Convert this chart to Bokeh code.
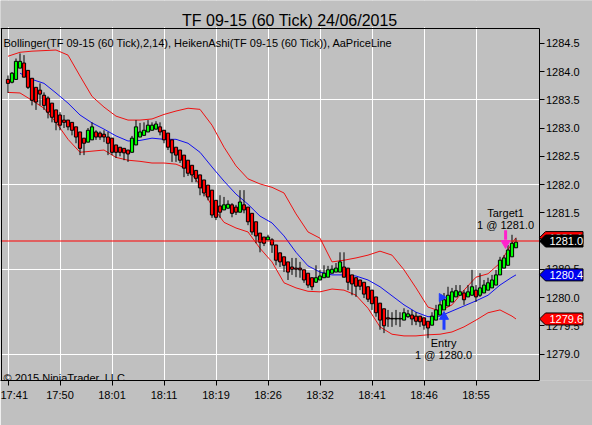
import math
from bokeh.plotting import figure
from bokeh.models import (ColumnDataSource, FixedTicker, Label, BoxAnnotation,
                          PrintfTickFormatter, LinearAxis)
from bokeh.core.properties import value
from bokeh.embed import file_html
from bokeh.resources import INLINE

# ---------------- data ----------------
title_text = "TF 09-15 (60 Tick)  24/06/2015"
indicator_text = "Bollinger(TF 09-15 (60 Tick),2,14), HeikenAshi(TF 09-15 (60 Tick)), AaPriceLine"
copyright_text = "\u00a9 2015 NinjaTrader, LLC"

tick_bars = [0, 13, 26, 39, 52, 65, 78, 91, 104, 117]
tick_labels = ["17:41", "17:50", "18:01", "18:11", "18:19", "18:26",
               "18:32", "18:41", "18:46", "18:55"]
price_ticks = [1279.0, 1279.5, 1280.0, 1280.5, 1281.0, 1281.5,
               1282.0, 1282.5, 1283.0, 1283.5, 1284.0, 1284.5]
grid_prices = [1279.0, 1280.5, 1282.0, 1283.5]

ha_open = [
    1283.86, 1283.81, 1283.86, 1284.06, 1284.15, 1284.02, 1283.88, 1283.72, 1283.67, 1283.58,
    1283.53, 1283.44, 1283.32, 1283.23, 1283.14, 1283.14, 1283.10, 1283.02, 1282.93, 1282.82,
    1282.75, 1282.79, 1282.93, 1282.91, 1282.89, 1282.84, 1282.82, 1282.70, 1282.66, 1282.64,
    1282.61, 1282.57, 1282.70, 1282.84, 1282.87, 1282.93, 1282.96, 1282.98, 1283.02, 1282.96,
    1282.91, 1282.79, 1282.66, 1282.61, 1282.52, 1282.43, 1282.34, 1282.25, 1282.17, 1282.08,
    1281.99, 1281.90, 1281.72, 1281.62, 1281.55, 1281.58, 1281.64, 1281.60, 1281.51, 1281.64,
    1281.60, 1281.49, 1281.34, 1281.14, 1281.07, 1281.02, 1281.02, 1280.93, 1280.79, 1280.72,
    1280.63, 1280.54, 1280.52, 1280.52, 1280.49, 1280.43, 1280.35, 1280.27, 1280.31, 1280.35,
    1280.36, 1280.43, 1280.45, 1280.45, 1280.54, 1280.52, 1280.40, 1280.35, 1280.31, 1280.27,
    1280.19, 1280.13, 1280.01, 1279.90, 1279.80, 1279.64, 1279.63, 1279.62, 1279.63, 1279.60,
    1279.66, 1279.69, 1279.67, 1279.67, 1279.64, 1279.58, 1279.51, 1279.60, 1279.69, 1279.78,
    1279.85, 1279.92, 1280.01, 1280.04, 1280.08, 1280.01, 1280.04, 1280.13, 1280.04, 1280.08,
    1280.13, 1280.17, 1280.22, 1280.40, 1280.52, 1280.57, 1280.72, 1280.88]

ha_high = [
    1283.93, 1283.99, 1284.23, 1284.32, 1284.29, 1284.02, 1283.88, 1283.72, 1283.79, 1283.63,
    1283.56, 1283.44, 1283.32, 1283.28, 1283.23, 1283.14, 1283.10, 1283.02, 1282.93, 1282.82,
    1283.00, 1283.10, 1282.96, 1282.94, 1282.96, 1282.93, 1282.82, 1282.70, 1282.66, 1282.64,
    1282.61, 1282.86, 1283.14, 1283.09, 1283.10, 1283.14, 1283.10, 1283.12, 1283.10, 1282.96,
    1282.91, 1282.79, 1282.66, 1282.61, 1282.52, 1282.43, 1282.34, 1282.25, 1282.17, 1282.08,
    1281.99, 1281.90, 1281.72, 1281.81, 1281.78, 1281.72, 1281.67, 1281.64, 1281.90, 1281.90,
    1281.60, 1281.49, 1281.34, 1281.14, 1281.07, 1281.11, 1281.05, 1280.93, 1280.79, 1280.72,
    1280.63, 1280.70, 1280.70, 1280.63, 1280.49, 1280.43, 1280.35, 1280.57, 1280.49, 1280.57,
    1280.56, 1280.57, 1280.61, 1280.80, 1280.80, 1280.52, 1280.40, 1280.35, 1280.31, 1280.27,
    1280.19, 1280.13, 1280.01, 1279.90, 1279.80, 1279.78, 1279.74, 1279.78, 1279.74, 1279.81,
    1279.78, 1279.78, 1279.74, 1279.67, 1279.64, 1279.58, 1279.74, 1279.87, 1279.99, 1280.08,
    1280.19, 1280.17, 1280.22, 1280.22, 1280.13, 1280.22, 1280.49, 1280.22, 1280.43, 1280.31,
    1280.35, 1280.40, 1280.49, 1280.72, 1280.75, 1280.93, 1281.11, 1281.05]

ha_low = [
    1283.62, 1283.79, 1283.86, 1284.06, 1283.90, 1283.69, 1283.40, 1283.32, 1283.40, 1283.32,
    1283.17, 1283.10, 1282.96, 1282.96, 1283.00, 1282.96, 1282.87, 1282.73, 1282.52, 1282.52,
    1282.75, 1282.79, 1282.79, 1282.79, 1282.75, 1282.52, 1282.52, 1282.47, 1282.50, 1282.43,
    1282.40, 1282.57, 1282.70, 1282.84, 1282.87, 1282.93, 1282.96, 1282.98, 1282.87, 1282.73,
    1282.61, 1282.40, 1282.40, 1282.38, 1282.13, 1282.15, 1282.04, 1282.04, 1281.81, 1281.79,
    1281.72, 1281.41, 1281.37, 1281.41, 1281.55, 1281.58, 1281.42, 1281.46, 1281.51, 1281.49,
    1281.28, 1281.11, 1280.96, 1280.80, 1280.91, 1281.02, 1280.79, 1280.57, 1280.54, 1280.45,
    1280.31, 1280.40, 1280.36, 1280.35, 1280.26, 1280.17, 1280.13, 1280.26, 1280.31, 1280.35,
    1280.36, 1280.43, 1280.45, 1280.45, 1280.36, 1280.13, 1280.04, 1280.01, 1280.13, 1279.99,
    1279.92, 1279.78, 1279.66, 1279.43, 1279.37, 1279.48, 1279.48, 1279.51, 1279.48, 1279.60,
    1279.64, 1279.51, 1279.51, 1279.48, 1279.43, 1279.28, 1279.51, 1279.60, 1279.69, 1279.78,
    1279.85, 1279.92, 1280.01, 1280.04, 1279.87, 1280.01, 1280.04, 1279.92, 1280.01, 1280.08,
    1280.13, 1280.17, 1280.22, 1280.40, 1280.52, 1280.57, 1280.72, 1280.88]

ha_close = [
    1283.79, 1283.97, 1284.18, 1284.18, 1283.90, 1283.72, 1283.49, 1283.46, 1283.60, 1283.40,
    1283.28, 1283.19, 1283.10, 1283.05, 1283.10, 1283.02, 1282.96, 1282.84, 1282.64, 1282.73,
    1282.96, 1283.02, 1282.84, 1282.84, 1282.84, 1282.73, 1282.57, 1282.57, 1282.57, 1282.56,
    1282.54, 1282.82, 1283.02, 1282.93, 1282.96, 1283.05, 1283.05, 1283.07, 1282.93, 1282.79,
    1282.66, 1282.56, 1282.52, 1282.43, 1282.29, 1282.20, 1282.17, 1282.11, 1281.94, 1281.85,
    1281.78, 1281.46, 1281.42, 1281.51, 1281.64, 1281.65, 1281.49, 1281.51, 1281.69, 1281.55,
    1281.34, 1281.16, 1281.09, 1280.98, 1280.96, 1281.07, 1280.93, 1280.66, 1280.63, 1280.57,
    1280.45, 1280.50, 1280.50, 1280.49, 1280.31, 1280.22, 1280.19, 1280.35, 1280.38, 1280.43,
    1280.49, 1280.50, 1280.52, 1280.63, 1280.36, 1280.27, 1280.24, 1280.20, 1280.20, 1280.06,
    1279.97, 1279.89, 1279.73, 1279.60, 1279.50, 1279.62, 1279.62, 1279.63, 1279.62, 1279.73,
    1279.71, 1279.62, 1279.58, 1279.57, 1279.51, 1279.46, 1279.67, 1279.78, 1279.87, 1279.96,
    1280.04, 1280.10, 1280.12, 1280.10, 1279.96, 1280.10, 1280.19, 1280.01, 1280.17, 1280.22,
    1280.26, 1280.31, 1280.40, 1280.66, 1280.70, 1280.84, 1280.96, 1280.98]

band_bars = [0, 3, 6, 9, 12, 15, 18, 21, 24, 27, 30, 33, 36, 39, 42, 45, 48, 51, 54, 57,
             60, 63, 66, 69, 72, 75, 78, 81, 84, 87, 90, 93, 96, 99, 102, 105, 108, 111,
             114, 117, 120, 123, 126, 127]
bb_upper = [1284.27, 1284.34, 1284.36, 1284.37, 1284.38, 1284.29, 1283.92, 1283.56, 1283.37,
            1283.21, 1283.14, 1283.14, 1283.16, 1283.24, 1283.30, 1283.35, 1283.33, 1283.05,
            1282.66, 1282.33, 1282.10, 1282.01, 1281.95, 1281.85, 1281.48, 1281.16, 1281.05,
            1280.63, 1280.66, 1280.70, 1280.75, 1280.82, 1280.75, 1280.49, 1280.17, 1279.83,
            1279.76, 1279.87, 1280.13, 1280.36, 1280.42, 1280.61, 1280.96, 1281.06]
mid_bars = band_bars[1:]
bb_mid = [1283.97, 1283.86, 1283.79, 1283.62, 1283.44, 1283.23, 1283.09, 1282.98, 1282.86,
          1282.77, 1282.78, 1282.82, 1282.80, 1282.80, 1282.73, 1282.57, 1282.31, 1282.06,
          1281.83, 1281.65, 1281.44, 1281.32, 1281.09, 1280.80, 1280.56, 1280.45, 1280.40,
          1280.40, 1280.38, 1280.31, 1280.19, 1280.03, 1279.87, 1279.74, 1279.66, 1279.67,
          1279.76, 1279.85, 1279.94, 1280.04, 1280.22, 1280.36, 1280.40]
bb_lower = [1283.63, 1283.62, 1283.49, 1283.35, 1283.10, 1282.80, 1282.57, 1282.59, 1282.61,
            1282.48, 1282.43, 1282.41, 1282.38, 1282.38, 1282.36, 1282.27, 1281.99, 1281.62,
            1281.33, 1281.23, 1281.16, 1280.87, 1280.63, 1280.26, 1280.17, 1280.11, 1280.10,
            1280.15, 1280.13, 1280.04, 1279.81, 1279.48, 1279.35, 1279.32, 1279.32, 1279.34,
            1279.35, 1279.39, 1279.48, 1279.60, 1279.73, 1279.78, 1279.67, 1279.62]

last_price = 1281.0
entry_bar = 109
entry_price = 1280.0
entry_texts = ["Entry", "1 @ 1280.0"]
target_bar = 124.4
target_price = 1281.0
target_texts = ["Target1", "1 @ 1281.0"]

# ---------------- layout constants (pixels) ----------------
BG = "#c0c0c0"
FONT = "Liberation Sans"
W, H = 592, 425
FRAME_H = 380                        # canvas y of the time axis line
PX_BAR = 4.0                         # pixels per bar
X0 = -7.5 / PX_BAR                   # bar position at the canvas left edge
X_END = X0 + W / PX_BAR
AXIS_X = X0 + 538.5 / PX_BAR         # price axis position (right edge of chart area)
PX_PRICE = 56.5                      # pixels per price point
Y0 = last_price - (FRAME_H - 240.5) / PX_PRICE
Y_END = Y0 + FRAME_H / PX_PRICE
Y_TOP = Y0 + (FRAME_H - 27.5) / PX_PRICE   # top border of chart area

p = figure(width=W, height=H, x_range=(X0, X_END), y_range=(Y0, Y_END),
           y_axis_location="right", output_backend="svg", toolbar_location=None,
           min_border_left=0, min_border_right=0, min_border_top=0,
           min_border_bottom=H - FRAME_H)
p.background_fill_color = BG
p.border_fill_color = BG
p.outline_line_color = None

# axes
xa = p.xaxis[0]
xa.ticker = FixedTicker(ticks=tick_bars)
xa.major_label_overrides = {b: t for b, t in zip(tick_bars, tick_labels)}
xa.bounds = (X0, AXIS_X)
ya = p.yaxis[0]
ya.ticker = FixedTicker(ticks=price_ticks)
ya.formatter = PrintfTickFormatter(format="%.1f")
ya.fixed_location = AXIS_X
ya.bounds = (Y0, Y_TOP)
for ax in (xa, ya):
    ax.axis_line_color = "black"
    ax.major_tick_line_color = "black"
    ax.major_tick_in = 0
    ax.major_tick_out = 5
    ax.minor_tick_line_color = None
    ax.major_label_text_font = FONT
    ax.major_label_text_font_size = "11px"
    ax.major_label_text_color = "black"
xa.major_label_standoff = 3
ya.major_label_standoff = 2

# chart-area border: top and left edges drawn as plain axis lines
top_border = LinearAxis(fixed_location=Y_TOP, bounds=(X0, AXIS_X), ticker=FixedTicker(ticks=[]),
                        axis_line_color="black", axis_line_width=1,
                        major_tick_line_color=None, minor_tick_line_color=None,
                        major_label_text_font_size="0px")
p.add_layout(top_border, "above")
left_border = LinearAxis(fixed_location=X0 + 0.5 / PX_BAR, bounds=(Y0, Y_TOP),
                         ticker=FixedTicker(ticks=[]),
                         axis_line_color="black", axis_line_width=1,
                         major_tick_line_color=None, minor_tick_line_color=None,
                         major_label_text_font_size="0px")
p.add_layout(left_border, "left")

# grids
p.xgrid.ticker = FixedTicker(ticks=tick_bars)
p.ygrid.ticker = FixedTicker(ticks=grid_prices)
for g in (p.xgrid[0], p.ygrid[0]):
    g.grid_line_color = "white"
    g.grid_line_width = 1
    g.grid_line_alpha = 1.0

# hide grid outside the chart area
p.add_layout(BoxAnnotation(left=AXIS_X + 0.5 / PX_BAR, fill_color=BG, fill_alpha=1.0,
                           line_color=None, level="underlay"))
p.add_layout(BoxAnnotation(bottom=Y_TOP + 1.0 / PX_PRICE, fill_color=BG, fill_alpha=1.0,
                           line_color=None, level="underlay"))

# Bollinger bands
p.line(band_bars, bb_upper, line_color="#ee1111", line_width=1)
p.line(band_bars, bb_lower, line_color="#ee1111", line_width=1)
p.line(mid_bars, bb_mid, line_color="#1010ee", line_width=1)

# Heiken Ashi candles
bars = list(range(len(ha_open)))
src = ColumnDataSource(dict(
    x=bars, h=ha_high, l=ha_low,
    top=[max(o, c) for o, c in zip(ha_open, ha_close)],
    bottom=[min(o, c) for o, c in zip(ha_open, ha_close)],
    color=["#00ff00" if c > o else "#ff0000" for o, c in zip(ha_open, ha_close)],
))
p.segment(x0="x", y0="h", x1="x", y1="l", source=src, line_color="black", line_width=1)
p.vbar(x="x", width=0.8, top="top", bottom="bottom", source=src,
       fill_color="color", line_color="black", line_width=1)

# price line (AaPriceLine)
p.segment(x0=[X0], y0=[last_price], x1=[AXIS_X], y1=[last_price],
          line_color="#ff0000", line_width=1)

# entry markers
p.segment(x0=[entry_bar], y0=[1279.43], x1=[entry_bar], y1=[1279.62],
          line_color="#1f3cff", line_width=3)
p.scatter([entry_bar], [1279.66], marker="triangle", size=9,
          fill_color="#1f3cff", line_color="#1f3cff")
p.scatter([entry_bar - 0.6], [entry_price], marker="triangle", size=8, angle=-math.pi / 2,
          fill_color="#1f3cff", line_color="#1f3cff")
# exit markers
p.segment(x0=[target_bar], y0=[1281.19], x1=[target_bar], y1=[1281.02],
          line_color="#ff22cc", line_width=3)
p.scatter([target_bar], [1280.96], marker="inverted_triangle", size=9,
          fill_color="#ff22cc", line_color="#ff22cc")

p.text(x=[entry_bar - 0.1, entry_bar - 0.1], y=[1279.195, 1278.98], text=entry_texts,
       text_align="center", text_baseline="alphabetic", text_color="black",
       text_font=value(FONT), text_font_size=value("11px"))
p.text(x=[target_bar, target_bar], y=[1281.49, 1281.28], text=target_texts,
       text_align="center", text_baseline="alphabetic", text_color="black",
       text_font=value(FONT), text_font_size=value("11px"))

# text labels
p.add_layout(Label(x=291.5, y=FRAME_H - 19.5, x_units="screen", y_units="screen",
                   text=title_text, text_align="center", text_baseline="alphabetic",
                   text_font=FONT, text_font_size="16px", text_color="black"))
p.add_layout(Label(x=3, y=FRAME_H - 42, x_units="screen", y_units="screen", text=indicator_text,
                   text_align="left", text_baseline="alphabetic", text_font=FONT,
                   text_font_size="11px", text_color="black"))
p.add_layout(Label(x=3, y=3, x_units="screen", y_units="screen", text=copyright_text,
                   text_align="left", text_baseline="alphabetic", text_font=FONT,
                   text_font_size="11px", text_color="black"))

# right-side price tags (drawn above the axis labels, one after another)
tag_vals = [bb_upper[-1], last_price, bb_mid[-1], bb_lower[-1]]
tag_cols = ["#ff0000", "black", "#0000ee", "#ff0000"]
half = 6 / PX_PRICE
tip = AXIS_X + 0.5 / PX_BAR
body_l = AXIS_X + 6.5 / PX_BAR
body_r = AXIS_X + 44 / PX_BAR
for v, col in zip(tag_vals, tag_cols):
    r1 = p.patch([tip, body_l, body_r, body_r, body_l],
                 [v, v + half, v + half, v - half, v - half],
                 fill_color=col, line_color="black", line_width=1)
    r1.level = "overlay"
    r2 = p.text(x=[AXIS_X + 10.5 / PX_BAR], y=[v], text=["%.1f" % v],
                text_align="left", text_baseline="middle", text_color="white",
                text_font=value(FONT), text_font_size=value("11px"))
    r2.level = "overlay"

open("out.html", "w").write(file_html(p, INLINE))
